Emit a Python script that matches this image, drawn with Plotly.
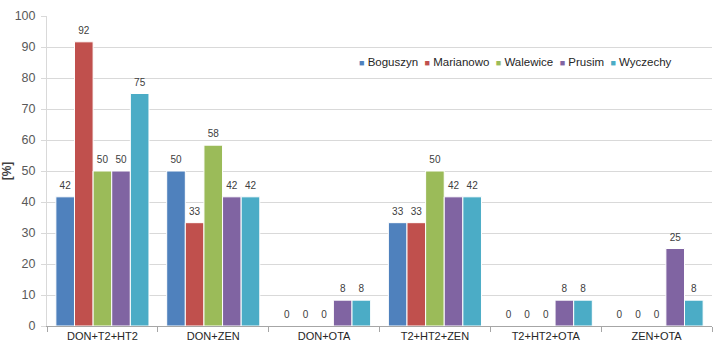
import plotly.graph_objects as go

categories = ["DON+T2+HT2", "DON+ZEN", "DON+OTA", "T2+HT2+ZEN", "T2+HT2+OTA", "ZEN+OTA"]
series_names = ["Boguszyn", "Marianowo", "Walewice", "Prusim", "Wyczechy"]
boguszyn = [41.67, 50.0, 0, 33.33, 0, 0]
marianowo = [91.67, 33.33, 0, 33.33, 0, 0]
walewice = [50.0, 58.33, 0, 50.0, 0, 0]
prusim = [50.0, 41.67, 8.33, 41.67, 8.33, 25.0]
wyczechy = [75.0, 41.67, 8.33, 41.67, 8.33, 8.33]
y_ticks = [0, 10, 20, 30, 40, 50, 60, 70, 80, 90, 100]

colors = ["#4F81BD", "#C0504D", "#9BBB59", "#8064A2", "#4BACC6"]
all_values = [boguszyn, marianowo, walewice, prusim, wyczechy]
FONT = "Liberation Sans, Arial, sans-serif"

fig = go.Figure()
for name, vals, col in zip(series_names, all_values, colors):
    fig.add_trace(go.Bar(
        name=name, x=categories, y=vals,
        marker=dict(color=col, line=dict(color="white", width=1)),
        offsetgroup=name, alignmentgroup="g",
        hoverinfo="x+y+name",
    ))
# value labels, grouped like the bars, sitting a little above each bar
for name, vals, col in zip(series_names, all_values, colors):
    fig.add_trace(go.Scatter(
        name=name, x=categories, y=vals,
        mode="markers+text",
        marker=dict(size=7, opacity=0, color=col),
        text=[f"{v:.0f}" for v in vals],
        textposition="top center",
        textfont=dict(size=10, color="#404040", family=FONT),
        offsetgroup=name, alignmentgroup="g",
        cliponaxis=False, hoverinfo="skip",
    ))

# legend drawn as a single text line (Excel-style compact legend)
legend_parts = []
for name, col in zip(series_names, colors):
    legend_parts.append(
        f"<span style='color:{col};font-size:9px'>■</span>&nbsp;{name}"
    )
legend_text = "&nbsp;&nbsp;".join(legend_parts)

fig.update_layout(
    width=715, height=353,
    margin=dict(l=47, r=3, t=16, b=27, autoexpand=False),
    paper_bgcolor="white", plot_bgcolor="white",
    barmode="group", bargap=0.16, bargroupgap=0.0,
    scattermode="group", scattergap=0.16,
    font=dict(family=FONT, color="#404040"),
    showlegend=False,
    annotations=[dict(
        text=legend_text, xref="paper", yref="paper",
        x=0.466, y=0.852, xanchor="left", yanchor="middle",
        showarrow=False, font=dict(size=11.5, color="#262626", family=FONT),
    )],
)
fig.update_xaxes(
    showline=True, linecolor="#A6A6A6", linewidth=1,
    ticks="outside", tickson="boundaries", ticklen=5, tickcolor="#A6A6A6",
    tickfont=dict(size=11, color="#262626"),
    showgrid=False, automargin=False,
)
fig.update_yaxes(
    range=[0, 100], tickvals=y_ticks,
    showgrid=True, gridcolor="#D9D9D9", gridwidth=1,
    showline=True, linecolor="#D9D9D9", linewidth=1,
    ticks="outside", ticklen=5, tickcolor="#D9D9D9",
    tickfont=dict(size=12.5, color="#595959"),
    ticklabelstandoff=3,
    title=dict(text="<b>[%]</b>", font=dict(size=12, color="#404040"), standoff=6),
    zeroline=False, automargin=False,
)

fig.write_html("out.html", config={"displayModeBar": False},
               post_script="document.body.style.margin='0';")
